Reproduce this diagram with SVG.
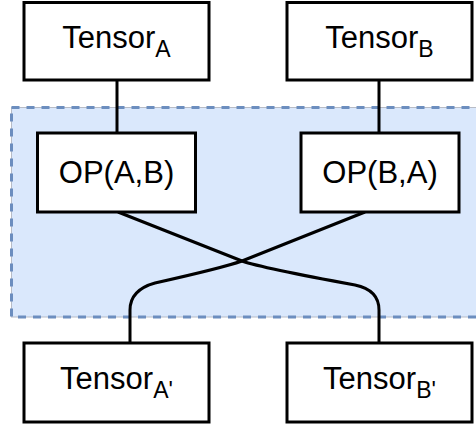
<svg xmlns="http://www.w3.org/2000/svg" width="476" height="430" viewBox="0 0 476 430">
  <style>
    .box { fill: #ffffff; stroke: #000000; stroke-width: 3; }
    .lbl { font-family: "Liberation Sans", Arial, sans-serif; font-size: 31px; fill: #000000; }
    .sub { font-size: 23px; }
    .wire { fill: none; stroke: #000000; stroke-width: 3; }
  </style>

  <!-- operation group region -->
  <g id="op-region">
    <rect x="11.5" y="107.5" width="480" height="209.5" fill="#dae8fc" stroke="#b8bcc6" stroke-width="1"/>
    <rect x="11.5" y="107.5" width="480" height="209.5" fill="none" stroke="#6c8ebf" stroke-width="3" stroke-dasharray="8 7"/>
  </g>

  <g id="connectors">
    <line class="wire" x1="117" y1="80" x2="117" y2="133"/>
    <line class="wire" x1="379" y1="80" x2="379" y2="133"/>
    <path class="wire" d="M118 212 L242 261 Q262 268 355 285 Q379 290 379 310 L379 343"/>
    <path class="wire" d="M365 212 L242 261 Q222 268 155 283 Q130 290 130 310 L130 343"/>
  </g>

  <g id="tensor-a">
    <rect class="box" x="24" y="2.5" width="185" height="77.5"/>
    <text class="lbl" x="116.5" y="48" text-anchor="middle">Tensor<tspan class="sub" dy="9">A</tspan></text>
  </g>

  <g id="tensor-b">
    <rect class="box" x="287" y="2.5" width="185" height="77.5"/>
    <text class="lbl" x="379.5" y="48" text-anchor="middle">Tensor<tspan class="sub" dy="9">B</tspan></text>
  </g>

  <g id="op-ab">
    <rect class="box" x="37.5" y="133" width="158" height="79"/>
    <text class="lbl" x="116.5" y="183" text-anchor="middle">OP(A,B)</text>
  </g>

  <g id="op-ba">
    <rect class="box" x="301" y="133" width="158" height="79"/>
    <text class="lbl" x="380" y="183" text-anchor="middle">OP(B,A)</text>
  </g>

  <g id="tensor-a-prime">
    <rect class="box" x="24" y="343" width="185" height="79"/>
    <text class="lbl" x="116.5" y="389" text-anchor="middle">Tensor<tspan class="sub" dy="9">A'</tspan></text>
  </g>

  <g id="tensor-b-prime">
    <rect class="box" x="287" y="343" width="185" height="79"/>
    <text class="lbl" x="379.5" y="389" text-anchor="middle">Tensor<tspan class="sub" dy="9">B'</tspan></text>
  </g>
</svg>
